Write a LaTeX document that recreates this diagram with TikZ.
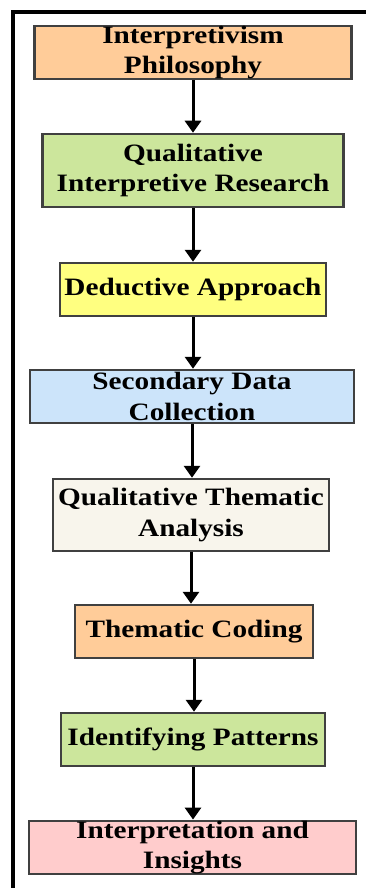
\documentclass[tikz,border=0pt]{standalone}
\usepackage{fontspec}
\setmainfont{Liberation Serif}[FakeStretch=1.17]
\usetikzlibrary{arrows.meta}

\definecolor{peach}{HTML}{FFCC99}
\definecolor{lime}{HTML}{CCE69C}
\definecolor{lemon}{HTML}{FFFF80}
\definecolor{skyblue}{HTML}{CCE4FA}
\definecolor{cream}{HTML}{F8F5EC}
\definecolor{blush}{HTML}{FFCCCC}

\tikzset{
  stepbox/.style={draw=black!75, line width=2.5pt, align=center, inner sep=0pt,
    minimum height=53pt, font=\fontsize{25}{30.5}\selectfont\bfseries},
  flow/.style={line width=3pt, -{Triangle[length=12pt,width=16pt]}}
}

\begin{document}
\begin{tikzpicture}[x=1pt, y=-1pt]
    \useasboundingbox (0, 0) rectangle (366, 888);
    % outer frame, runs off the right and bottom edges
    \begin{scope}
      \clip (0, 0) rectangle (366, 888);
      \draw[line width=4pt] (13, 12) rectangle (390, 910);
    \end{scope}

    \node[stepbox, fill=peach, minimum width=317pt] (b1) at (193, 52.5)
      {Interpretivism\\Philosophy};
    \node[stepbox, fill=lime, minimum width=301pt, minimum height=73pt] (b2) at (193, 170.5)
      {Qualitative\\Interpretive Research};
    \node[stepbox, fill=lemon, minimum width=266pt] (b3) at (193, 289.5)
      {Deductive Approach};
    \node[stepbox, fill=skyblue, minimum width=324pt] (b4) at (192, 396.5)
      {Secondary Data\\Collection};
    \node[stepbox, fill=cream, minimum width=276pt, minimum height=72pt] (b5) at (191, 515)
      {Qualitative Thematic\\Analysis};
    \node[stepbox, fill=peach, minimum width=238pt] (b6) at (194, 631.5)
      {Thematic Coding};
    \node[stepbox, fill=lime, minimum width=264pt] (b7) at (193, 739.5)
      {Identifying Patterns};
    \node[stepbox, fill=blush, minimum width=327pt] (b8) at (192.5, 847.5)
      {Interpretation and\\Insights};

    \foreach \a/\b in {b1/b2, b2/b3, b3/b4, b4/b5, b5/b6, b6/b7, b7/b8} {
      \draw[flow] (\a.south) -- (\a.south |- \b.north);
    }
\end{tikzpicture}
\end{document}
